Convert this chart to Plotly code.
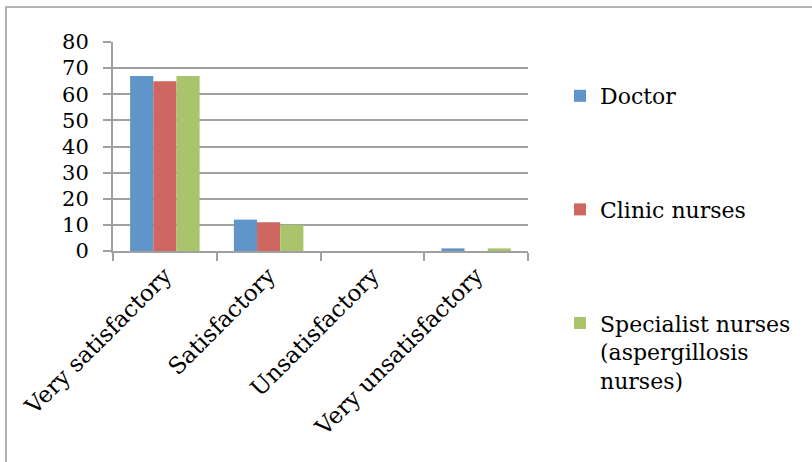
import plotly.graph_objects as go

# Survey responses by staff group
categories = ["Very satisfactory", "Satisfactory", "Unsatisfactory", "Very unsatisfactory"]
doctor = [67, 12, 0, 1]
clinic_nurses = [65, 11, 0, 0]
specialist_nurses = [67, 10, 0, 1]

series_names = ["Doctor", "Clinic nurses", "Specialist nurses<br>(aspergillosis<br>nurses)"]
series_values = [doctor, clinic_nurses, specialist_nurses]
fill_colors = ["#6095CA", "#CE6761", "#A9C46B"]

W, H = 812, 462
L, R, T, B = 113, 284, 42, 211
plot_w = W - L - R
plot_h = H - T - B
SERIF = "DejaVu Serif"
GRID = "#A0A0A0"

fig = go.Figure()
for i, (name, vals) in enumerate(zip(series_names, series_values)):
    fig.add_trace(go.Bar(
        x=categories, y=vals, name=name, legendgroup=f"g{i}",
        marker=dict(color=fill_colors[i], line=dict(width=0)),
    ))

def px_x(p):
    return (p - L) / plot_w

def px_y(p):
    return (H - B - p) / plot_h

fig.update_layout(
    width=W, height=H,
    margin=dict(l=L, r=R, t=T, b=B, autoexpand=False),
    paper_bgcolor="white", plot_bgcolor="white",
    barmode="group", bargap=0.33, bargroupgap=0,
    font=dict(family=SERIF, size=21, color="black"),
    showlegend=True,
    legend=dict(
        x=px_x(560), y=px_y(75), xanchor="left", yanchor="top",
        font=dict(family=SERIF, size=22, color="black"),
        tracegroupgap=82, valign="top", bgcolor="rgba(0,0,0,0)",
        maxheight=420, itemclick=False, itemdoubleclick=False,
    ),
    xaxis=dict(
        type="category", showline=True, linecolor=GRID, linewidth=2,
        ticks="outside", tickson="boundaries", ticklen=8, tickwidth=2, tickcolor=GRID,
        tickangle=-45, tickfont=dict(family=SERIF, size=23), showgrid=False,
        automargin=False,
    ),
    yaxis=dict(
        range=[0, 80], dtick=10, showgrid=True, gridcolor=GRID, gridwidth=2,
        showline=True, linecolor=GRID, linewidth=2,
        ticks="outside", ticklen=8, tickwidth=2, tickcolor=GRID, ticklabelstandoff=10,
        tickfont=dict(family=SERIF, size=21), zeroline=False, automargin=False,
    ),
    shapes=[dict(
        type="rect", xref="paper", yref="paper",
        x0=px_x(6), x1=px_x(W + 5), y0=px_y(H + 5), y1=px_y(7),
        line=dict(color="#9A9A9A", width=1.5), fillcolor="rgba(0,0,0,0)", layer="below",
    )],
)

fig.write_html("out.html")
